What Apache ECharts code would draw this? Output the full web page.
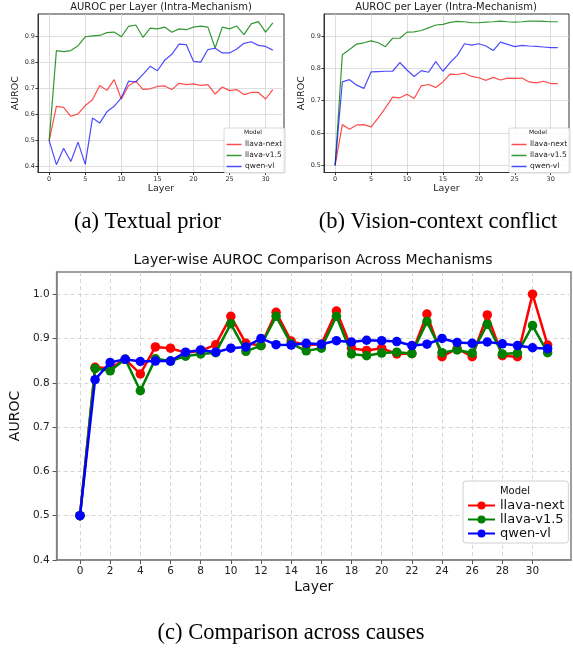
<!DOCTYPE html>
<html>
<head>
<meta charset="utf-8">
<script src="https://cdn.jsdelivr.net/npm/echarts@6/dist/echarts.min.js"></script>
<style>
  html, body { margin: 0; padding: 0; background: #fff; }
  #box { width: 573px; height: 648px; }
</style>
</head>
<body>
<div id="box"></div>
<script>
const models = ['llava-next', 'llava-v1.5', 'qwen-vl'];
const layers = [0, 1, 2, 3, 4, 5, 6, 7, 8, 9, 10, 11, 12, 13, 14, 15, 16, 17, 18, 19, 20, 21, 22, 23, 24, 25, 26, 27, 28, 29, 30, 31];

// (a) textual prior
const llavaNextA = [0.500, 0.631, 0.627, 0.593, 0.602, 0.634, 0.656, 0.711, 0.692, 0.733, 0.659, 0.710, 0.727, 0.696, 0.698, 0.707, 0.709, 0.695, 0.719, 0.714, 0.717, 0.711, 0.714, 0.678, 0.705, 0.691, 0.695, 0.676, 0.684, 0.684, 0.659, 0.695];
const llavaV15A = [0.500, 0.844, 0.840, 0.844, 0.863, 0.897, 0.900, 0.902, 0.913, 0.915, 0.897, 0.937, 0.942, 0.895, 0.930, 0.927, 0.934, 0.914, 0.927, 0.924, 0.934, 0.938, 0.934, 0.854, 0.934, 0.927, 0.938, 0.905, 0.946, 0.955, 0.915, 0.950];
const qwenA = [0.500, 0.408, 0.471, 0.420, 0.494, 0.409, 0.586, 0.567, 0.610, 0.631, 0.663, 0.727, 0.724, 0.753, 0.784, 0.767, 0.807, 0.830, 0.869, 0.867, 0.803, 0.800, 0.848, 0.853, 0.835, 0.835, 0.850, 0.872, 0.878, 0.864, 0.860, 0.846];

// (b) vision-context conflict
const llavaNextB = [0.500, 0.626, 0.612, 0.625, 0.626, 0.619, 0.647, 0.678, 0.711, 0.709, 0.720, 0.707, 0.746, 0.750, 0.741, 0.758, 0.782, 0.781, 0.785, 0.775, 0.771, 0.763, 0.772, 0.764, 0.770, 0.769, 0.770, 0.758, 0.755, 0.760, 0.753, 0.753];
const llavaV15B = [0.500, 0.842, 0.858, 0.875, 0.879, 0.885, 0.879, 0.867, 0.893, 0.893, 0.912, 0.913, 0.917, 0.925, 0.934, 0.936, 0.942, 0.945, 0.944, 0.941, 0.941, 0.943, 0.944, 0.946, 0.944, 0.943, 0.944, 0.946, 0.946, 0.945, 0.944, 0.944];
const qwenB = [0.500, 0.758, 0.765, 0.748, 0.738, 0.789, 0.790, 0.791, 0.791, 0.818, 0.795, 0.775, 0.793, 0.788, 0.821, 0.791, 0.818, 0.840, 0.876, 0.872, 0.876, 0.869, 0.855, 0.881, 0.874, 0.867, 0.871, 0.869, 0.868, 0.866, 0.864, 0.864];

// (c) comparison across causes
const llavaNextC = [0.500, 0.835, 0.833, 0.853, 0.820, 0.881, 0.878, 0.868, 0.872, 0.886, 0.950, 0.889, 0.884, 0.959, 0.894, 0.885, 0.887, 0.962, 0.878, 0.873, 0.878, 0.865, 0.866, 0.955, 0.859, 0.877, 0.859, 0.953, 0.861, 0.859, 1.000, 0.885];
const llavaV15C = [0.500, 0.832, 0.827, 0.853, 0.782, 0.854, 0.849, 0.860, 0.865, 0.868, 0.933, 0.871, 0.884, 0.950, 0.888, 0.872, 0.878, 0.950, 0.865, 0.861, 0.867, 0.869, 0.866, 0.938, 0.868, 0.874, 0.867, 0.932, 0.865, 0.867, 0.929, 0.868];
const qwenC = [0.500, 0.807, 0.846, 0.853, 0.848, 0.849, 0.849, 0.869, 0.874, 0.869, 0.878, 0.881, 0.900, 0.886, 0.885, 0.889, 0.887, 0.895, 0.892, 0.896, 0.895, 0.893, 0.884, 0.887, 0.900, 0.891, 0.889, 0.892, 0.888, 0.884, 0.879, 0.877];

const xTicksSmall = [0, 5, 10, 15, 20, 25, 30];
const yTicksA = [0.4, 0.5, 0.6, 0.7, 0.8, 0.9];
const yTicksB = [0.5, 0.6, 0.7, 0.8, 0.9];
const xTicksBig = [0, 2, 4, 6, 8, 10, 12, 14, 16, 18, 20, 22, 24, 26, 28, 30];
const yTicksBig = [0.4, 0.5, 0.6, 0.7, 0.8, 0.9, 1.0];

const FONT = 'DejaVu Sans';
const thinColors = ['rgba(255,0,0,0.7)', 'rgba(0,128,0,0.8)', 'rgba(0,0,255,0.7)'];
const boldColors = ['#ff0000', '#008000', '#0000ff'];

const pairs = arr => layers.map((l, i) => [l, arr[i]]);

function smallAxes(gi, yMin, yMax, yTicks) {
  const x = {
    type: 'value', gridIndex: gi, min: -1.55, max: 32.55,
    name: 'Layer', nameLocation: 'middle', nameGap: 10,
    nameTextStyle: { fontFamily: FONT, fontSize: 9.5, color: '#222' },
    axisLine: { show: true, onZero: false, lineStyle: { color: '#333', width: 1 } },
    axisTick: { show: true, length: 2.5, customValues: xTicksSmall, lineStyle: { color: '#333' } },
    axisLabel: { customValues: xTicksSmall, fontFamily: FONT, fontSize: 6.5, color: '#333', margin: 3 },
    splitLine: { show: true, lineStyle: { color: '#d6d6d6', width: 0.8 } }
  };
  const y = {
    type: 'value', gridIndex: gi, min: yMin, max: yMax,
    name: 'AUROC', nameLocation: 'middle', nameGap: 12, nameRotate: 90,
    nameTextStyle: { fontFamily: FONT, fontSize: 9.5, color: '#222' },
    axisLine: { show: true, onZero: false, lineStyle: { color: '#333', width: 1 } },
    axisTick: { show: true, length: 2.5, customValues: yTicks, lineStyle: { color: '#333' } },
    axisLabel: { customValues: yTicks, formatter: v => v.toFixed(1), fontFamily: FONT, fontSize: 6.5, color: '#333', margin: 3 },
    splitLine: { show: true, lineStyle: { color: '#d6d6d6', width: 0.8 } }
  };
  return [x, y];
}

const [xa, ya] = smallAxes(0, 0.378, 0.984, yTicksA);
const [xb, yb] = smallAxes(1, 0.478, 0.968, yTicksB);

const xc = {
  type: 'value', gridIndex: 2, min: -1.55, max: 32.55,
  name: 'Layer', nameLocation: 'middle', nameGap: 20,
  nameTextStyle: { fontFamily: FONT, fontSize: 14, color: '#111' },
  axisLine: { show: true, onZero: false, lineStyle: { color: '#808080', width: 1.5 } },
  axisTick: { show: true, length: 4, customValues: xTicksBig, lineStyle: { color: '#555' } },
  axisLabel: { customValues: xTicksBig, fontFamily: FONT, fontSize: 10.5, color: '#222', margin: 6 },
  splitLine: { show: true, lineStyle: { color: '#cccccc', width: 0.8, type: [4, 3] } }
};
const yc = {
  type: 'value', gridIndex: 2, min: 0.4, max: 1.05,
  name: 'AUROC', nameLocation: 'middle', nameGap: 27, nameRotate: 90,
  nameTextStyle: { fontFamily: FONT, fontSize: 14, color: '#111' },
  axisLine: { show: true, onZero: false, lineStyle: { color: '#808080', width: 1.5 } },
  axisTick: { show: true, length: 4, customValues: yTicksBig, lineStyle: { color: '#555' } },
  axisLabel: { customValues: yTicksBig, formatter: v => v.toFixed(1), fontFamily: FONT, fontSize: 10.5, color: '#222', margin: 7 },
  splitLine: { show: true, lineStyle: { color: '#cccccc', width: 0.8, type: [4, 3] } }
};

const seriesA = [llavaNextA, llavaV15A, qwenA];
const seriesB = [llavaNextB, llavaV15B, qwenB];
const seriesC = [llavaNextC, llavaV15C, qwenC];

const series = [];
seriesA.forEach((d, i) => series.push({
  name: 'a:' + models[i], type: 'line', xAxisIndex: 0, yAxisIndex: 0, data: pairs(d),
  symbol: 'none', lineStyle: { color: thinColors[i], width: 1.2 }, itemStyle: { color: thinColors[i] }, z: 3 + i
}));
seriesB.forEach((d, i) => series.push({
  name: 'b:' + models[i], type: 'line', xAxisIndex: 1, yAxisIndex: 1, data: pairs(d),
  symbol: 'none', lineStyle: { color: thinColors[i], width: 1.2 }, itemStyle: { color: thinColors[i] }, z: 3 + i
}));
seriesC.forEach((d, i) => series.push({
  name: 'c:' + models[i], type: 'line', xAxisIndex: 2, yAxisIndex: 2, data: pairs(d),
  symbol: 'circle', symbolSize: 9.5, showAllSymbol: true,
  lineStyle: { color: boldColors[i], width: 2.5 }, itemStyle: { color: boldColors[i] }, z: 3 + i
}));

function smallLegend(prefix, left) {
  return {
    orient: 'vertical', left: left, top: 128,
    data: models.map(m => prefix + m),
    formatter: n => n.slice(2),
    icon: 'rect',
    padding: [12, 3, 2, 2.5], itemGap: 2, itemWidth: 15, itemHeight: 1.5,
    backgroundColor: 'rgba(255,255,255,0.85)', borderColor: '#d0d0d0', borderWidth: 0.8, borderRadius: 2,
    textStyle: { fontFamily: FONT, fontSize: 7.5, color: '#222', padding: [0, 0, 0, -1.5], lineHeight: 9 },
    selectedMode: false
  };
}

const option = {
  animation: false,
  backgroundColor: '#fff',
  textStyle: { fontFamily: FONT },
  grid: [
    { left: 38, top: 14, width: 246, height: 158.5, show: true, borderColor: '#333', borderWidth: 1, backgroundColor: 'transparent', containLabel: false },
    { left: 324, top: 14, width: 245, height: 158.5, show: true, borderColor: '#333', borderWidth: 1, backgroundColor: 'transparent', containLabel: false },
    { left: 54, top: 272, width: 517, height: 288, show: true, borderColor: '#808080', borderWidth: 1.5, backgroundColor: 'transparent', containLabel: false }
  ],
  xAxis: [xa, xb, xc],
  yAxis: [ya, yb, yc],
  legend: [
    smallLegend('a:', 224),
    smallLegend('b:', 509),
    {
      orient: 'vertical', left: 463, top: 481,
      data: models.map(m => 'c:' + m),
      formatter: n => n.slice(2),
      padding: [18, 4, 3, 4], itemGap: 1, itemWidth: 27, itemHeight: 10,
      backgroundColor: 'rgba(255,255,255,0.85)', borderColor: '#d0d0d0', borderWidth: 1, borderRadius: 3,
      textStyle: { fontFamily: FONT, fontSize: 13, color: '#111' },
      selectedMode: false
    }
  ],
  graphic: [
    { type: 'text', x: 161, y: 7, z: 100, style: { text: 'AUROC per Layer (Intra-Mechanism)', font: '10px "DejaVu Sans"', fill: '#222', textAlign: 'center', textVerticalAlign: 'middle' } },
    { type: 'text', x: 446, y: 7, z: 100, style: { text: 'AUROC per Layer (Intra-Mechanism)', font: '10px "DejaVu Sans"', fill: '#222', textAlign: 'center', textVerticalAlign: 'middle' } },
    { type: 'text', x: 253, y: 132.5, z: 100, style: { text: 'Model', font: '6px "DejaVu Sans"', fill: '#222', textAlign: 'center', textVerticalAlign: 'middle' } },
    { type: 'text', x: 538, y: 132.5, z: 100, style: { text: 'Model', font: '6px "DejaVu Sans"', fill: '#222', textAlign: 'center', textVerticalAlign: 'middle' } },
    { type: 'text', x: 515, y: 491, z: 100, style: { text: 'Model', font: '10px "DejaVu Sans"', fill: '#111', textAlign: 'center', textVerticalAlign: 'middle' } },
    { type: 'text', x: 313, y: 260, z: 100, style: { text: 'Layer-wise AUROC Comparison Across Mechanisms', font: '14px "DejaVu Sans"', fill: '#111', textAlign: 'center', textVerticalAlign: 'middle' } },
    { type: 'text', x: 147.5, y: 222, z: 100, style: { text: '(a) Textual prior', font: '22.5px "Liberation Serif"', fill: '#000', textAlign: 'center', textVerticalAlign: 'middle' } },
    { type: 'text', x: 438, y: 222, z: 100, style: { text: '(b) Vision-context conflict', font: '22.5px "Liberation Serif"', fill: '#000', textAlign: 'center', textVerticalAlign: 'middle' } },
    { type: 'text', x: 291, y: 633, z: 100, style: { text: '(c) Comparison across causes', font: '22.5px "Liberation Serif"', fill: '#000', textAlign: 'center', textVerticalAlign: 'middle' } }
  ],
  series: series
};

const chart = echarts.init(document.getElementById('box'), null, { renderer: 'canvas' });
chart.setOption(option);
</script>
</body>
</html>
